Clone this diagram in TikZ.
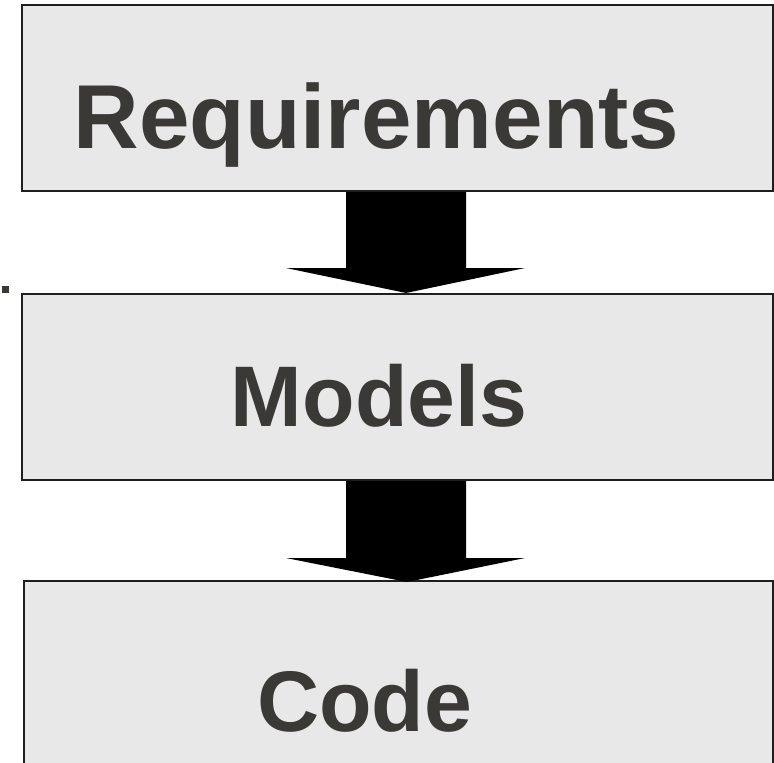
\documentclass[tikz,border=0pt]{standalone}
\usepackage{fontspec}
\setmainfont{Liberation Sans}
\usetikzlibrary{calc}
\definecolor{boxfill}{HTML}{E8E8E8}
\definecolor{boxline}{HTML}{1E1E1E}
\definecolor{inkgrey}{HTML}{3A3935}
\tikzset{
  stage/.style={draw=boxline, line width=2pt, fill=boxfill, inner sep=0pt},
  stagetext/.style={anchor=base, inner sep=0pt, text=inkgrey, font=\bfseries},
  flowarrow/.style={fill=black, draw=none},
}
\begin{document}
\begin{tikzpicture}[x=1pt, y=-1pt]
  \useasboundingbox (0,0) rectangle (774,763);

  % the three stages
  \node[stage, minimum width=751pt, minimum height=186pt] (req) at (397.5,98) {};
  \node[stage, minimum width=751pt, minimum height=186pt] (mod) at (397.5,387) {};
  \node[stage, minimum width=749pt, minimum height=194pt] (code) at (398.5,678) {};

  % their titles
  \node[stagetext, font=\bfseries\fontsize{90.8}{100}\selectfont] (reqtext) at (376.5,148.3) {Requirements};
  \node[stagetext, font=\bfseries\fontsize{86}{100}\selectfont] (modtext) at (379,426) {Models};
  \node[stagetext, font=\bfseries\fontsize{86}{100}\selectfont] (codetext) at (364.5,731.7) {Code};

  % small mark at the left margin
  \node[fill=inkgrey, minimum size=7pt, inner sep=0pt] (mark) at (5,289) {};

  % block arrows between consecutive stages
  \coordinate (a1s) at ($(req.south)+(8.5,0)$);
  \coordinate (a1t) at ($(mod.north)+(8.5,0)$);
  \coordinate (a2s) at ($(mod.south)+(8.5,0)$);
  \coordinate (a2t) at ($(code.north)+(8.5,2)$);

  \fill[flowarrow] ($(a1s)+(-60,0)$) -- ($(a1s)+(60,0)$) -- ($(a1s)+(60,76)$)
    -- ($(a1s)+(119,76)$) -- (a1t) -- ($(a1s)+(-120,76)$) -- ($(a1s)+(-60,76)$) -- cycle;
  \fill[flowarrow] ($(a2s)+(-60,0)$) -- ($(a2s)+(60,0)$) -- ($(a2s)+(60,77)$)
    -- ($(a2s)+(119,77)$) -- (a2t) -- ($(a2s)+(-120,77)$) -- ($(a2s)+(-60,77)$) -- cycle;
\end{tikzpicture}
\end{document}
